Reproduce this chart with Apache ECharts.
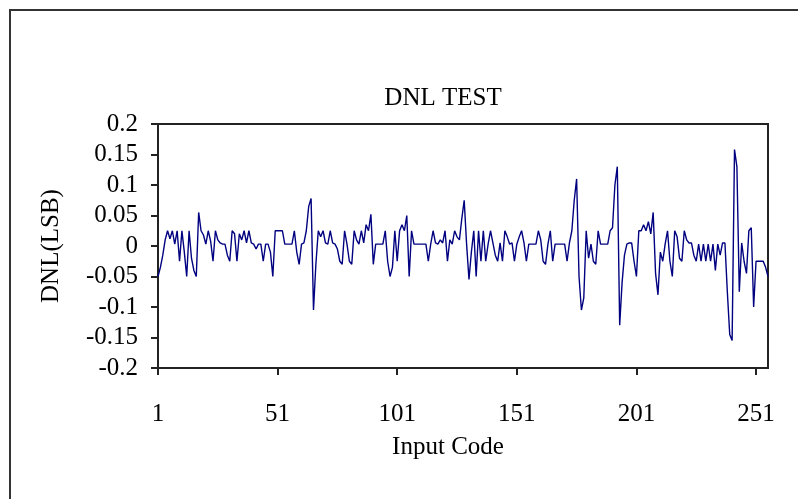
<!DOCTYPE html>
<html>
<head>
<meta charset="utf-8">
<script src="https://cdn.jsdelivr.net/npm/echarts@6/dist/echarts.min.js"></script>
<style>
  html, body { margin: 0; padding: 0; background: #ffffff; }
  #chart { width: 798px; height: 499px; }
</style>
</head>
<body>
<div id="chart"></div>
<script>
// Input codes 1..256
const codes = Array.from({ length: 256 }, (_, i) => String(i + 1));

// Measured DNL per code (LSB)
const dnl = [
  -0.05, -0.035, -0.015, 0.01, 0.025, 0.012, 0.025, 0.003, 0.025, -0.025,
  0.025, -0.01, -0.05, 0.025, -0.02, -0.04, -0.05, 0.055, 0.025, 0.018,
  0.003, 0.025, 0.008, -0.025, 0.025, 0.01, 0.005, 0.003, 0.003, -0.015,
  -0.025, 0.025, 0.02, -0.025, 0.02, 0.01, 0.025, 0.005, 0.025, 0.005,
  0.003, -0.005, 0.003, 0.003, -0.025, 0.003, 0.003, -0.01, -0.05, 0.025,
  0.025, 0.025, 0.025, 0.003, 0.003, 0.003, 0.003, 0.025, -0.01, -0.03,
  0.003, 0.005, 0.025, 0.065, 0.078, -0.105, -0.03, 0.025, 0.015, 0.025,
  0.005, 0.003, 0.025, 0.005, 0.003, -0.005, -0.025, -0.03, 0.025, 0.003,
  -0.025, -0.03, 0.025, 0.01, 0.003, 0.025, 0.005, 0.035, 0.025, 0.052,
  -0.03, 0.003, 0.003, 0.003, 0.003, 0.025, -0.025, -0.05, -0.035, 0.025,
  -0.025, 0.025, 0.035, 0.025, 0.05, -0.05, 0.025, 0.003, 0.003, 0.003,
  0.003, 0.003, 0.003, -0.025, 0.003, 0.025, 0.005, 0.003, 0.01, 0.005,
  0.025, -0.025, 0.01, 0.003, 0.025, 0.015, 0.01, 0.045, 0.075, 0.003,
  -0.055, -0.01, 0.025, -0.05, 0.025, -0.025, 0.025, -0.025, 0.003, 0.025,
  0.005, -0.015, -0.025, 0.005, -0.025, 0.025, 0.015, 0.003, 0.005, -0.025,
  0.003, 0.015, 0.025, 0.005, -0.025, 0.003, 0.003, 0.003, 0.003, 0.025,
  0.01, -0.025, -0.03, 0.003, 0.025, -0.025, 0.003, 0.003, 0.003, 0.003,
  0.003, -0.025, 0.005, 0.025, 0.075, 0.11, -0.05, -0.105, -0.085, 0.025,
  -0.02, 0.003, -0.025, -0.03, 0.025, 0.003, 0.003, 0.003, 0.003, 0.025,
  0.03, 0.1, 0.13, -0.13, -0.06, -0.015, 0.003, 0.005, 0.005, -0.025,
  -0.05, 0.025, 0.025, 0.035, 0.025, 0.04, 0.02, 0.055, -0.045, -0.08,
  -0.01, -0.025, 0.003, 0.025, -0.025, -0.05, 0.025, 0.015, -0.02, -0.025,
  0.025, 0.01, 0.005, 0.005, -0.015, -0.025, 0.003, -0.025, 0.003, -0.025,
  0.003, -0.025, 0.003, -0.04, 0.003, -0.015, 0.005, 0.005, -0.075, -0.145,
  -0.155, 0.158, 0.13, -0.075, 0.005, -0.025, -0.045, 0.025, 0.03, -0.1,
  -0.025, -0.025, -0.025, -0.025, -0.035, -0.05
];

// Y axis range and step
const yMin = -0.2;
const yMax = 0.2;
const yStep = 0.05;

const serif = "'Liberation Serif', 'Times New Roman', serif";

const chart = echarts.init(document.getElementById('chart'), null, { renderer: 'canvas' });

chart.setOption({
  backgroundColor: '#ffffff',
  animation: false,
  graphic: [
    {
      type: 'rect',
      shape: { x: 10, y: 10, width: 820, height: 520 },
      style: { fill: 'none', stroke: '#333333', lineWidth: 2 },
      silent: true
    },
    {
      type: 'text',
      x: 443, y: 98,
      style: {
        text: 'DNL TEST', font: '25px ' + serif, fill: '#000',
        align: 'center', verticalAlign: 'middle'
      }
    },
    {
      type: 'text',
      x: 448, y: 447,
      style: {
        text: 'Input Code', font: '25px ' + serif, fill: '#000',
        align: 'center', verticalAlign: 'middle'
      }
    },
    {
      type: 'text',
      x: 51, y: 246,
      rotation: Math.PI / 2,
      style: {
        text: 'DNL(LSB)', font: '25px ' + serif, fill: '#000',
        align: 'center', verticalAlign: 'middle'
      }
    }
  ],
  grid: {
    left: 158, right: 30, top: 124, bottom: 131,
    show: true, borderColor: '#222', borderWidth: 2, backgroundColor: 'transparent'
  },
  xAxis: {
    type: 'category',
    data: codes,
    boundaryGap: false,
    axisLine: { show: true, onZero: false, lineStyle: { color: '#222', width: 2 } },
    axisTick: { show: true, interval: 49, length: 7, lineStyle: { color: '#222', width: 2 } },
    axisLabel: {
      interval: 49, margin: 34, color: '#000',
      fontFamily: serif, fontSize: 25
    },
    splitLine: { show: false }
  },
  yAxis: {
    type: 'value',
    min: yMin, max: yMax, interval: yStep,
    axisLine: { show: true, lineStyle: { color: '#222', width: 2 } },
    axisTick: { show: true, length: 7, lineStyle: { color: '#222', width: 2 } },
    axisLabel: {
      margin: 20, color: '#000', fontFamily: serif, fontSize: 25,
      formatter: v => String(parseFloat(v.toFixed(2)))
    },
    splitLine: { show: false }
  },
  series: [{
    type: 'line',
    data: dnl,
    showSymbol: false,
    symbol: 'none',
    lineStyle: { color: '#000080', width: 1.4 },
    silent: true
  }]
});
</script>
</body>
</html>
